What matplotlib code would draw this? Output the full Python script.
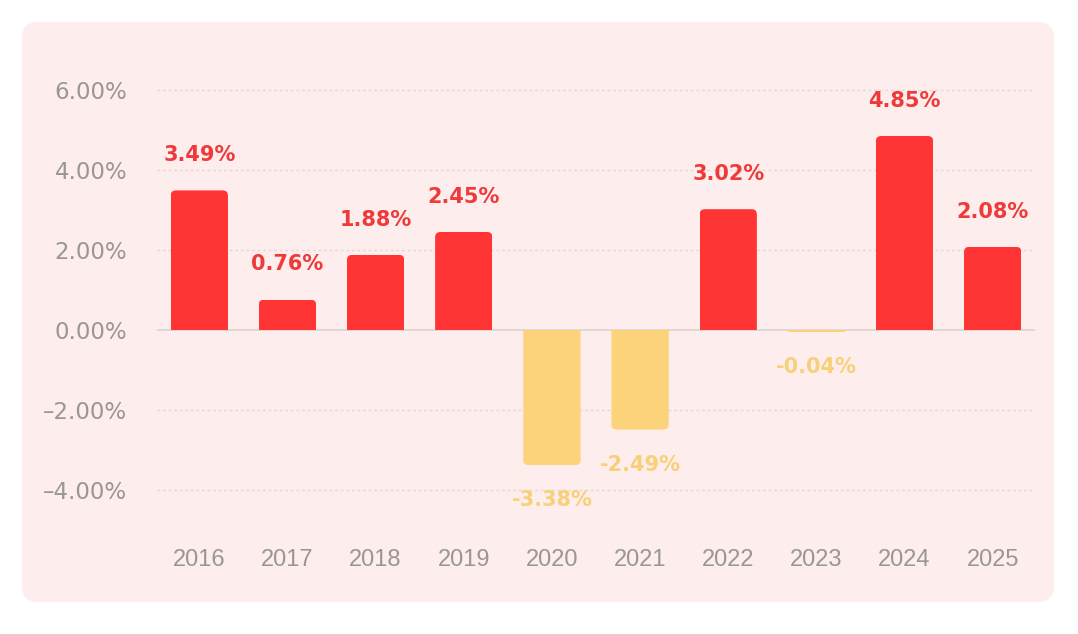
import numpy as np
import matplotlib.pyplot as plt
from matplotlib.patches import FancyBboxPatch, Rectangle
from matplotlib.transforms import IdentityTransform

years = ["2016", "2017", "2018", "2019", "2020", "2021", "2022", "2023", "2024", "2025"]
returns = [3.49, 0.76, 1.88, 2.45, -3.38, -2.49, 3.02, -0.04, 4.85, 2.08]
yticks = [-4, -2, 0, 2, 4, 6]

RED = "#FF3434"
RED_TXT = "#EE3A3A"
YEL = "#FCD37B"
YEL_TXT = "#F8D07A"
PANEL = "#FDEDED"
TICK = "#9A9696"

fig = plt.figure(figsize=(10.78, 6.34), dpi=100)
fig.patch.set_facecolor("white")

# rounded pink panel, pixel coordinates
panel = FancyBboxPatch((22, 32), 1032, 580,
                       boxstyle="round,pad=0,rounding_size=16",
                       transform=IdentityTransform(),
                       facecolor=PANEL, edgecolor="none", zorder=-10)
fig.add_artist(panel)

ax = fig.add_axes([157 / 1078, 1 - 514 / 634, (1035 - 157) / 1078, (514 - 74) / 634])
ax.set_facecolor("none")
ax.set_zorder(5)
ax.set_xlim(-0.48, 9.48)
ax.set_ylim(-4.6, 6.4)

x = np.arange(len(years))
colors = [RED if v >= 0 else YEL for v in returns]
bars = ax.bar(x, returns, width=0.65, color=colors, zorder=3)

# rounded outer corners: a rounded box running past zero, clipped at the bar
px_per_x = 878 / (9.48 + 0.48)
px_per_y = 440 / 11.0
aspect = px_per_x / px_per_y
r = 0.06
for b, c in zip(bars, colors):
    bx, bw = b.get_x(), b.get_width()
    h = b.get_height()
    hh = abs(h)
    ry = r * aspect
    if hh < 2 * ry:
        continue
    b.set_visible(False)
    if h >= 0:
        y0 = -ry
    else:
        y0 = h
    rb = FancyBboxPatch((bx, y0), bw, hh + ry,
                        boxstyle=f"round,pad=0,rounding_size={r}",
                        mutation_aspect=aspect,
                        facecolor=c, edgecolor="none", zorder=3)
    ax.add_patch(rb)
    clip = Rectangle((bx, min(0, h)), bw, hh, transform=ax.transData)
    rb.set_clip_path(clip)

for xi, v, c in zip(x, returns, colors):
    if v >= 0:
        ax.annotate(f"{v:.2f}%", (xi, v), xytext=(0, 21), textcoords="offset points",
                    ha="center", va="baseline", fontsize=15, fontweight="bold",
                    color=RED_TXT, family="DejaVu Sans", zorder=4)
    else:
        ax.annotate(f"{v:.2f}%", (xi, v), xytext=(0, -18), textcoords="offset points",
                    ha="center", va="top", fontsize=15, fontweight="bold",
                    color=YEL_TXT, family="DejaVu Sans", zorder=4)

for t in yticks:
    if t == 0:
        ax.axhline(0, color="#DCD3D3", linewidth=1.2, zorder=2)
    else:
        ax.axhline(t, color="#E2D9D9", linewidth=1.0, linestyle=(0, (2, 2)), zorder=1)

ax.set_yticks(yticks)
ax.set_yticklabels([f"{t:.2f}%".replace("-", "\u2013") for t in yticks])
ax.set_xticks(x)
ax.set_xticklabels(years)
ax.tick_params(axis="y", length=0, pad=21.5, labelsize=16.5, labelcolor=TICK)
ax.tick_params(axis="x", length=0, pad=25, labelsize=17, labelcolor=TICK)
for lab in ax.get_yticklabels():
    lab.set_family("DejaVu Sans")
for lab in ax.get_xticklabels():
    lab.set_family("Liberation Sans")

for s in ax.spines.values():
    s.set_visible(False)

fig.savefig("out.png", dpi=100, facecolor=fig.get_facecolor())
